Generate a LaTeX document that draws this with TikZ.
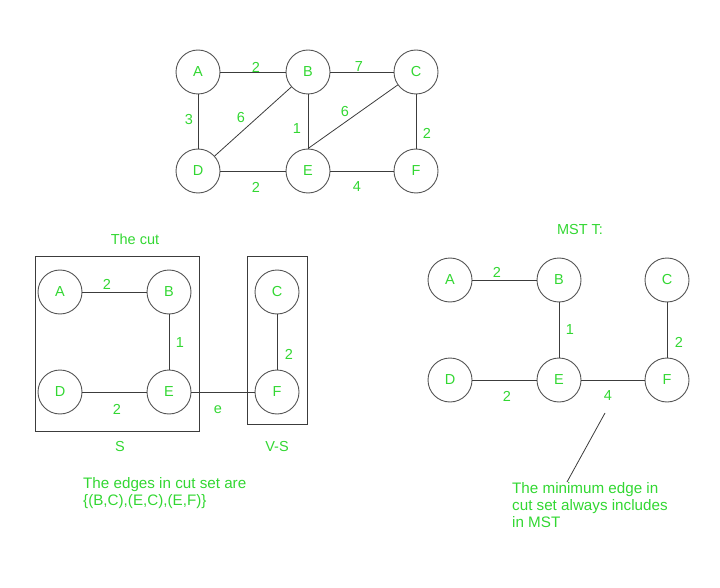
\documentclass[tikz,border=0pt]{standalone}
\usepackage{fontspec}
\setmainfont{Liberation Sans}
\definecolor{lblgreen}{RGB}{50,215,50}
\definecolor{edgegray}{RGB}{60,60,60}
\definecolor{circgray}{RGB}{85,85,85}
\begin{document}
\begin{tikzpicture}[x=1pt,y=-1pt,
  vtx/.style={circle,draw=circgray,line width=0.9pt,minimum size=44pt,inner sep=0pt,text=lblgreen,font=\fontsize{14.5}{16}\selectfont},
  lbl/.style={text=lblgreen,inner sep=0pt,font=\fontsize{14.5}{16}\selectfont},
  txt/.style={text=lblgreen,inner sep=0pt,align=left,anchor=west,font=\fontsize{15.2}{17}\selectfont},
  edg/.style={draw=edgegray,line width=0.8pt},
  boxx/.style={draw=edgegray,line width=0.8pt}]
\useasboundingbox (0,0) rectangle (720,588);
% ---------- top graph ----------
\node[vtx] (tA) at (198,72) {A};
\node[vtx] (tB) at (308,72) {B};
\node[vtx] (tC) at (416,72) {C};
\node[vtx] (tD) at (198,171) {D};
\node[vtx] (tE) at (308,171) {E};
\node[vtx] (tF) at (416,171) {F};
\draw[edg] (tA) -- (tB);
\draw[edg] (tB) -- (tC);
\draw[edg] (tA) -- (tD);
\draw[edg] (tD) -- (tB);
\draw[edg] (tB) -- (tE);
\draw[edg] (tE.north) -- (tC);
\draw[edg] (tC) -- (tF);
\draw[edg] (tD) -- (tE);
\draw[edg] (tE) -- (tF);
\node[lbl] (l1) at (256,67) {2};
\node[lbl] (l2) at (359,67) {7};
\node[lbl] (l3) at (189,120) {3};
\node[lbl] (l4) at (241,118) {6};
\node[lbl] (l5) at (297,129) {1};
\node[lbl] (l6) at (345,112) {6};
\node[lbl] (l7) at (427,133) {2};
\node[lbl] (l8) at (256,187) {2};
\node[lbl] (l9) at (357,187) {4};
% ---------- the cut ----------
\node[lbl] (cuttitle) at (135,239) {The cut};
\draw[boxx] (35,256) rectangle (199,431);
\draw[boxx] (247,256) rectangle (307,424);
\node[vtx] (cA) at (60,292) {A};
\node[vtx] (cB) at (169,292) {B};
\node[vtx] (cC) at (277,292) {C};
\node[vtx] (cD) at (60,392) {D};
\node[vtx] (cE) at (169,392) {E};
\node[vtx] (cF) at (277,392) {F};
\draw[edg] (cA) -- (cB);
\draw[edg] (cB) -- (cE);
\draw[edg] (cC) -- (cF);
\draw[edg] (cD) -- (cE);
\draw[edg] (cE) -- (cF);
\node[lbl] (m1) at (107,284) {2};
\node[lbl] (m2) at (180,343) {1};
\node[lbl] (m3) at (289,354) {2};
\node[lbl] (m4) at (117,409) {2};
\node[lbl] (m5) at (218,410) {e};
\node[lbl] (sS) at (120,447) {S};
\node[lbl] (sVS) at (277,447) {V-S};
\node[txt] (cutset) at (83,493) {The edges in cut set are\\\{(B,C),(E,C),(E,F)\}};
% ---------- MST ----------
\node[lbl] (msttitle) at (580,230) {MST T:};
\node[vtx] (mA) at (450,280) {A};
\node[vtx] (mB) at (559,280) {B};
\node[vtx] (mC) at (667,280) {C};
\node[vtx] (mD) at (450,380) {D};
\node[vtx] (mE) at (559,380) {E};
\node[vtx] (mF) at (667,380) {F};
\draw[edg] (mA) -- (mB);
\draw[edg] (mB) -- (mE);
\draw[edg] (mC) -- (mF);
\draw[edg] (mD) -- (mE);
\draw[edg] (mE) -- (mF);
\node[lbl] (n1) at (497,272) {2};
\node[lbl] (n2) at (570,330) {1};
\node[lbl] (n3) at (679,342) {2};
\node[lbl] (n4) at (507,396) {2};
\node[lbl] (n5) at (608,396) {4};
\coordinate (p1) at (605,413);
\coordinate (p2) at (567,482);
\draw[edg] (p1) -- (p2);
\node[txt] (note) at (512,505) {The minimum edge in\\cut set always includes\\in MST};
\end{tikzpicture}
\end{document}
